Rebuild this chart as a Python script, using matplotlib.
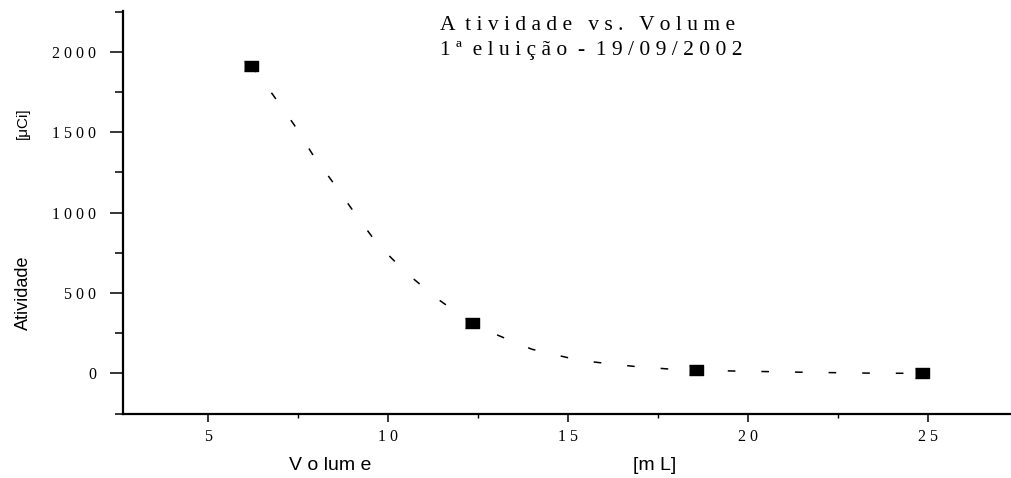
import numpy as np
import matplotlib
matplotlib.use("Agg")
import matplotlib.pyplot as plt
from matplotlib.ticker import MultipleLocator, FuncFormatter

# measured points
volume = [6.2, 12.33, 18.55, 24.83]
atividade = [1913, 312, 20, 0]

# smooth curve
curve_x = [6.2, 6.8, 7.4, 7.9, 8.5, 9.1, 9.7, 10.5, 11.4, 12.33, 12.9, 13.5,
           14.0, 14.7, 15.3, 16.2, 16.9, 17.8, 18.55, 19.5, 20.5, 21.5, 22.5,
           23.5, 24.83]
curve_y = [1913, 1735, 1545, 1365, 1180, 990, 807, 627, 460, 312, 252, 195,
           150, 113, 82, 58, 42, 27, 20, 15, 11, 7, 4, 1, 0]

title_1 = "A  t i v i d a d e   v s .   V o l u m e"
title_2 = "1 ª  e l u i ç ã o  -  1 9 / 0 9 / 2 0 0 2"

serif = "Liberation Serif"
sans = "Liberation Sans"


def spaced(v, pos):
    return " ".join(str(int(round(v))))


fig = plt.figure(figsize=(10.11, 4.78), dpi=100)
ax = fig.add_axes([123/1011, 1 - 414/478, 1 - 123/1011, (414 - 11)/478])

ax.plot(curve_x, curve_y, color="black", lw=1.1, dashes=(5, 17))
ax.plot(volume, atividade, ls="none", color="black",
        marker=[(-1.5, -1), (1.5, -1), (1.5, 1), (-1.5, 1)], markersize=10)

ax.set_xlim(2.64, 27.31)
ax.set_ylim(-253, 2255)

ax.spines["top"].set_visible(False)
ax.spines["right"].set_visible(False)
ax.spines["left"].set_linewidth(1.6)
ax.spines["bottom"].set_linewidth(1.6)

ax.xaxis.set_major_locator(MultipleLocator(5))
ax.xaxis.set_minor_locator(MultipleLocator(2.5))
ax.yaxis.set_major_locator(MultipleLocator(500))
ax.yaxis.set_minor_locator(MultipleLocator(250))
ax.xaxis.set_major_formatter(FuncFormatter(spaced))
ax.yaxis.set_major_formatter(FuncFormatter(spaced))

ax.tick_params(axis="y", which="major", direction="out", length=9.4, width=1.1, pad=10)
ax.tick_params(axis="y", which="minor", direction="out", length=5.8, width=1.1)
ax.tick_params(axis="x", which="major", direction="out", length=5.5, width=1.1, pad=5)
ax.tick_params(axis="x", which="minor", direction="out", length=3, width=1.0)
for lab in ax.get_xticklabels() + ax.get_yticklabels():
    lab.set_fontfamily(serif)
    lab.set_fontsize(11.5)

fig.text(440/1011, 1 - 25/478, title_1, family=serif, fontsize=15.5, va="center", ha="left")
fig.text(440/1011, 1 - 50/478, title_2, family=serif, fontsize=15.5, va="center", ha="left")

fig.text(330/1011, 1 - 465/478, "V o lum e", family=sans, fontsize=14, ha="center", va="center")
fig.text(655/1011, 1 - 465/478, "[m L]", family=sans, fontsize=14, ha="center", va="center")
fig.text(23/1011, 1 - 293/478, "Atividade", family=sans, fontsize=13, rotation=90,
         ha="center", va="center")
fig.text(23/1011, 1 - 123/478, "[\u03bcCi]", family=sans, fontsize=11, rotation=90,
         ha="center", va="center")

fig.savefig("out.png", dpi=100)
